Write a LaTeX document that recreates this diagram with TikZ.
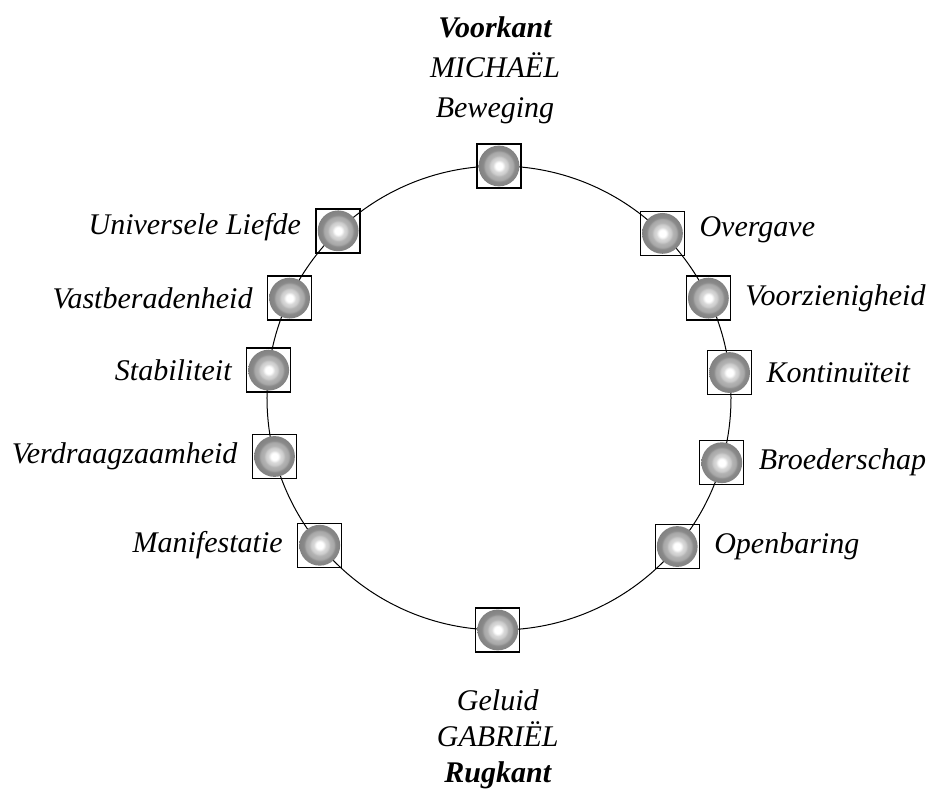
\documentclass[tikz,border=0pt]{standalone}
\usepackage{fontspec}
\setmainfont{Liberation Serif}
\usepackage{tikz}
\usetikzlibrary{positioning}
\pgfdeclareradialshading{ringshade}{\pgfpoint{0bp}{0bp}}{%
  color(0bp)=(white); color(4bp)=(white); color(7bp)=(gray!30);
  color(10bp)=(gray!40); color(12bp)=(gray!60); color(16bp)=(gray!68);
  color(18bp)=(gray!92); color(25bp)=(gray!100); color(50bp)=(gray!100)}

\begin{document}
\begin{tikzpicture}[
    ringbox/.style={draw, line width=0.7pt, minimum size=22pt, inner sep=0pt,
      path picture={\shade[shading=ringshade]
        (path picture bounding box.center) circle (10.2pt);}},
    lab/.style={inner sep=2pt, font=\fontsize{15}{20}\selectfont\itshape},
    head/.style={lab, align=center}]
    \useasboundingbox (-249.5pt,-197.5pt) rectangle (218.5pt,199pt);
    \coordinate (ctr) at (0,0);
    \draw[line width=0.5pt] (ctr) circle (116pt);
    \node[ringbox] (michael) at (90:116pt) {};
    \node[ringbox] (overgave) at (45.2:116pt) {};
    \node[ringbox] (voorzien) at (25.5:116pt) {};
    \node[ringbox] (kontinu) at (6.3:116pt) {};
    \node[ringbox] (broeder) at (-16.2:116pt) {};
    \node[ringbox] (openbaar) at (-39.8:116pt) {};
    \node[ringbox] (gabriel) at (-90.3:116pt) {};
    \node[ringbox] (manifest) at (219.4:116pt) {};
    \node[ringbox] (verdraag) at (194.6:116pt) {};
    \node[ringbox] (stabiel) at (173.1:116pt) {};
    \node[ringbox] (vastber) at (154.5:116pt) {};
    \node[ringbox] (liefde) at (133.9:116pt) {};
    \node[head, above=7.5pt of michael, xshift=-2pt] (michaelT)
      {\textbf{Voorkant}\\MICHAËL\\Beweging};
    \node[head, below=16.5pt of gabriel,
      font=\fontsize{15}{18}\selectfont\itshape] (gabrielT)
      {Geluid\\GABRIËL\\\textbf{Rugkant}};
    \node[lab, right=5pt of overgave, yshift=2pt] (overgaveT) {Overgave};
    \node[lab, right=5pt of voorzien] (voorzienT) {Voorzienigheid};
    \node[lab, right=5pt of kontinu] (kontinuT) {Kontinuïteit};
    \node[lab, right=5pt of broeder] (broederT) {Broederschap};
    \node[lab, right=5pt of openbaar] (openbaarT) {Openbaring};
    \node[lab, left=5pt of manifest] (manifestT) {Manifestatie};
    \node[lab, left=5pt of verdraag] (verdraagT) {Verdraagzaamheid};
    \node[lab, left=5pt of stabiel] (stabielT) {Stabiliteit};
    \node[lab, left=5pt of vastber] (vastberT) {Vastberadenheid};
    \node[lab, left=5pt of liefde, yshift=2pt] (liefdeT) {Universele Liefde};
\end{tikzpicture}
\end{document}
